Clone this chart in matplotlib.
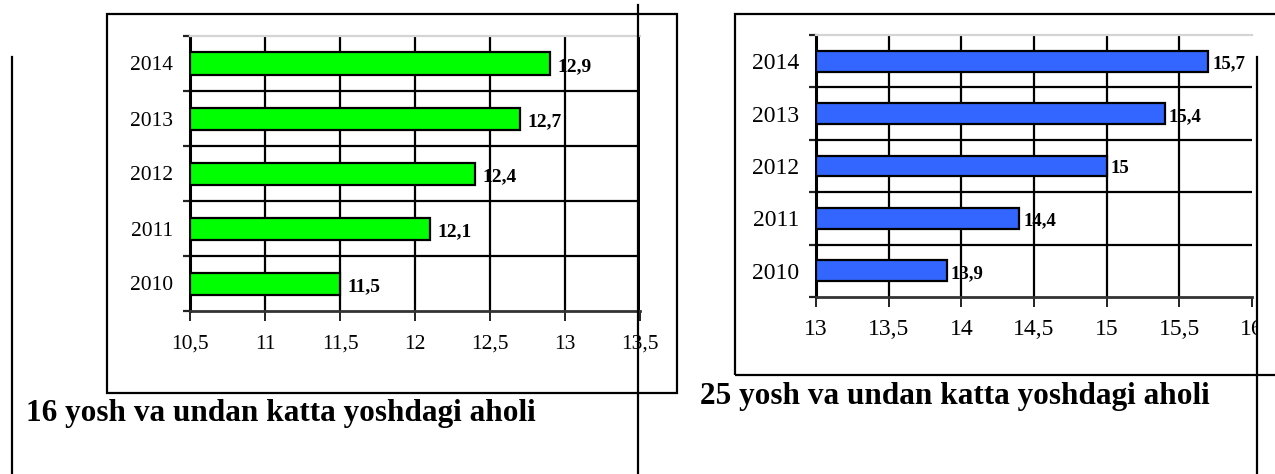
import matplotlib
matplotlib.use("Agg")
import matplotlib.pyplot as plt
from matplotlib.patches import Rectangle
from matplotlib.lines import Line2D
from matplotlib.transforms import Bbox

plt.rcParams['font.family'] = ['Liberation Serif', 'DejaVu Serif']

# ---- data ----
years = ["2010", "2011", "2012", "2013", "2014"]
vals_16 = [11.5, 12.1, 12.4, 12.7, 12.9]
vals_25 = [13.9, 14.4, 15.0, 15.4, 15.7]
labels_16 = ["11,5", "12,1", "12,4", "12,7", "12,9"]
labels_25 = ["13,9", "14,4", "15", "15,4", "15,7"]
xticks_16 = [10.5, 11, 11.5, 12, 12.5, 13, 13.5]
xticklabels_16 = ["10,5", "11", "11,5", "12", "12,5", "13", "13,5"]
xticks_25 = [13, 13.5, 14, 14.5, 15, 15.5, 16]
xticklabels_25 = ["13", "13,5", "14", "14,5", "15", "15,5", "16"]
title_16 = "16 yosh va undan katta yoshdagi aholi"
title_25 = "25 yosh va undan katta yoshdagi aholi"

W, H = 1275, 474
fig = plt.figure(figsize=(W / 100, H / 100), dpi=100)


def fx(px):
    return px / W


def fy(py):
    return 1 - py / H


def panel(rect_px, vals, labels, xticks, xticklabels, color, ylab_size,
          xlab_size, val_size, val_off, grid_ticks, xpad):
    x0, y0, x1, y1 = rect_px
    ax = fig.add_axes([fx(x0), fy(y1), fx(x1 - x0), (y1 - y0) / H])
    n = len(vals)
    pos = list(range(n))
    base = xticks[0]
    ax.barh(pos, [v - base for v in vals], left=base, height=0.4,
            color=color, edgecolor='black', linewidth=1.6, zorder=3)
    ax.set_xlim(xticks[0], xticks[-1])
    ax.set_ylim(-0.5, n - 0.5)
    ax.set_yticks(pos)
    ax.set_yticklabels(years, fontsize=ylab_size)
    ax.set_yticks([p - 0.5 for p in pos] + [n - 0.5], minor=True)
    ax.tick_params(axis='y', which='major', length=0, pad=12)
    ax.tick_params(axis='y', which='minor', length=5, width=1.6,
                   color='#222222', direction='out')
    ax.set_xticks(xticks)
    ax.set_xticklabels(xticklabels, fontsize=xlab_size)
    ax.tick_params(axis='x', which='major', length=7, width=1.4,
                   color='#222222', direction='out', pad=xpad)
    for t in grid_ticks:
        ax.axvline(t, color='black', lw=1.6, zorder=1)
    for b in [p + 0.5 for p in pos[:-1]]:
        ax.axhline(b, color='black', lw=1.6, zorder=1)
    ax.spines['right'].set_visible(False)
    ax.spines['top'].set_color('#d4d4d4')
    ax.spines['top'].set_linewidth(1.6)
    ax.spines['left'].set_color('black')
    ax.spines['left'].set_linewidth(2.2)
    ax.spines['bottom'].set_color('#333333')
    ax.spines['bottom'].set_linewidth(2.0)
    for p, v, lab in zip(pos, vals, labels):
        ax.annotate(lab, (v, p), xytext=(val_off, -2), textcoords='offset points',
                    ha='left', va='center', fontsize=val_size,
                    fontweight='bold', zorder=4)
    return ax


ax1 = panel((190, 36, 640, 311), vals_16, labels_16, xticks_16, xticklabels_16,
            '#00ff00', 15.5, 15.5, 14, 5, xticks_16, 10)
ax2 = panel((816, 35, 1252, 297), vals_25, labels_25, xticks_25, xticklabels_25,
            '#3366ff', 17, 17, 13.5, 3, xticks_25[:-1], 9)

# clip the last tick label of the right chart at the table line
clip = Bbox.from_extents(0, 0, 1257, H)
for lab in ax2.get_xticklabels():
    lab.set_clip_box(clip)
    lab.set_clip_on(True)

# frames around the charts
fig.add_artist(Rectangle((fx(107), fy(393)), fx(677 - 107), (393 - 14) / H,
                         transform=fig.transFigure, fill=False,
                         edgecolor='black', lw=1.6, zorder=5))
fig.add_artist(Rectangle((fx(735), fy(375)), fx(560), (375 - 14) / H,
                         transform=fig.transFigure, fill=False,
                         edgecolor='black', lw=1.6, zorder=5))

# table lines
for xpx, ytop in [(12, 57), (638, 5), (1257, 57)]:
    fig.add_artist(Line2D([fx(xpx), fx(xpx)], [fy(ytop), 0],
                          transform=fig.transFigure, color='black', lw=1.6,
                          zorder=6))

# titles
fig.text(fx(26), fy(421), title_16, fontsize=22.5, fontweight='bold',
         ha='left', va='baseline')
fig.text(fx(700), fy(404), title_25, fontsize=22.5, fontweight='bold',
         ha='left', va='baseline')

fig.savefig('out.png', dpi=100)
